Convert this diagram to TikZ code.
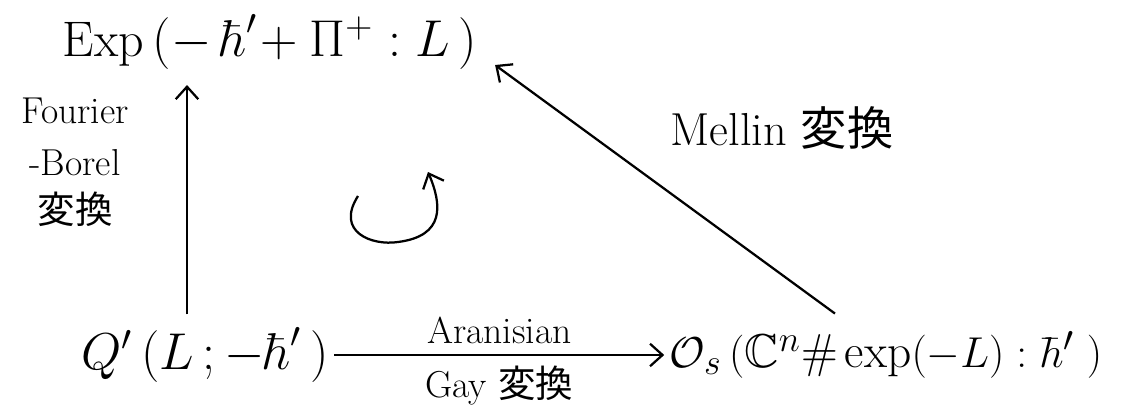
\documentclass[tikz,border=0pt]{standalone}
\usepackage{amssymb}
\usepackage{fontspec}
\newfontfamily\jp{Noto Sans CJK JP}
\usetikzlibrary{arrows.meta}
\tikzset{
  big/.style={font=\fontsize{20}{24}\selectfont, inner sep=2pt},
  lab/.style={font=\fontsize{15}{18}\selectfont, inner sep=1pt},
  arr/.style={line width=0.9pt, -{Straight Barb[length=5pt,width=9pt,line width=0.9pt]}}
}
\begin{document}
\begin{tikzpicture}[x=0.4pt,y=-0.4pt]
\useasboundingbox (0,0) rectangle (1136,408);
\node[big] (E) at (270,42) {$\mathrm{Exp}\,(-\,\hbar'\!+\Pi^{+} : L\,)$};
\node[big] (Q) at (205,355) {$Q'\,(L\,;-\hbar'\,)$};
\node[big, font=\fontsize{19}{23}\selectfont] (O) at (886,355) {$\mathcal{O}_{s}\,(\mathbb{C}^{n}\#\,\mathrm{exp}(-L) : \hbar'\;)$};
\node[lab, align=center] (FB) at (75,162) {Fourier\\[3pt]-Borel\\[1pt]{\jp 変換}};
\node[lab, font=\fontsize{18.5}{22}\selectfont] (ML) at (782,128) {Mellin {\jp 変換}};
\draw[arr] ([xshift=-18*0.4pt,yshift=3pt]Q.north) -- ([xshift=-83*0.4pt,yshift=-4pt]E.south);
\draw[arr] (Q.east) -- node[lab, above=3pt] (AR) {Aranisian} node[lab, below=3pt] (GY) {Gay {\jp 変換}} (O.west);
\draw[arr] ([xshift=-51*0.4pt,yshift=5pt]O.north) -- ([xshift=5pt,yshift=4pt]E.south east);
\coordinate (c1) at (358,196);
\coordinate (c2) at (428,172);
\draw[arr] (c1) .. controls (335,232) and (372,246) .. (398,242) .. controls (445,236) and (442,205) .. (c2);
\end{tikzpicture}
\end{document}
